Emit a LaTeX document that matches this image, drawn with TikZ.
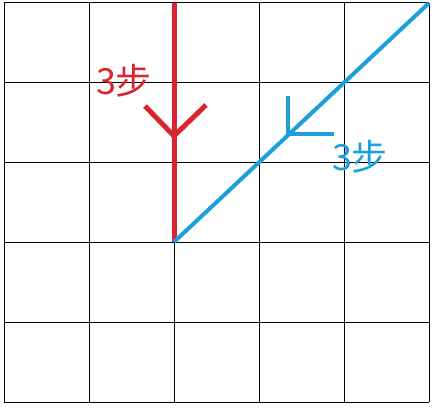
\documentclass[tikz,border=0pt]{standalone}
\usepackage{fontspec}
\newfontfamily\cjk{Noto Sans CJK SC}
\definecolor{redline}{RGB}{218,37,46}
\definecolor{blueline}{RGB}{28,160,220}
\begin{document}
\begin{tikzpicture}[x=1pt,y=-1pt,
  gridline/.style={line width=1pt,black},
  redpath/.style={redline,line width=5pt},
  bluepath/.style={blueline,line width=4pt},
  lbl/.style={font=\cjk\fontsize{36}{36}\selectfont,inner sep=0pt}]
\useasboundingbox (0,0) rectangle (435,408);
\foreach \x in {4,89,174,259,344,429} \draw[gridline] (\x,2.5) -- (\x,402);
\foreach \y in {2.5,82.5,162.5,242,322,402} \draw[gridline] (4,\y) -- (429,\y);
\coordinate (rtop) at (174,2.5);
\coordinate (origin) at (174,242);
\coordinate (btop) at (429,3);
\coordinate (rtip) at (174,136);
\coordinate (rl) at (145,106);
\coordinate (rr) at (206,105);
\coordinate (btip) at (288,134);
\coordinate (bu) at (288,96);
\coordinate (br) at (334,134);
\draw[redpath] (rtop) -- (origin);
\draw[redpath] (rl) -- (rtip) -- (rr);
\draw[bluepath] (origin) -- (btop);
\draw[bluepath] (bu) -- (btip) -- (br);
\node[lbl,text=redline] (rlabel) at (124,81) {3步};
\node[lbl,text=blueline] (blabel) at (360,157) {3步};
\end{tikzpicture}
\end{document}
